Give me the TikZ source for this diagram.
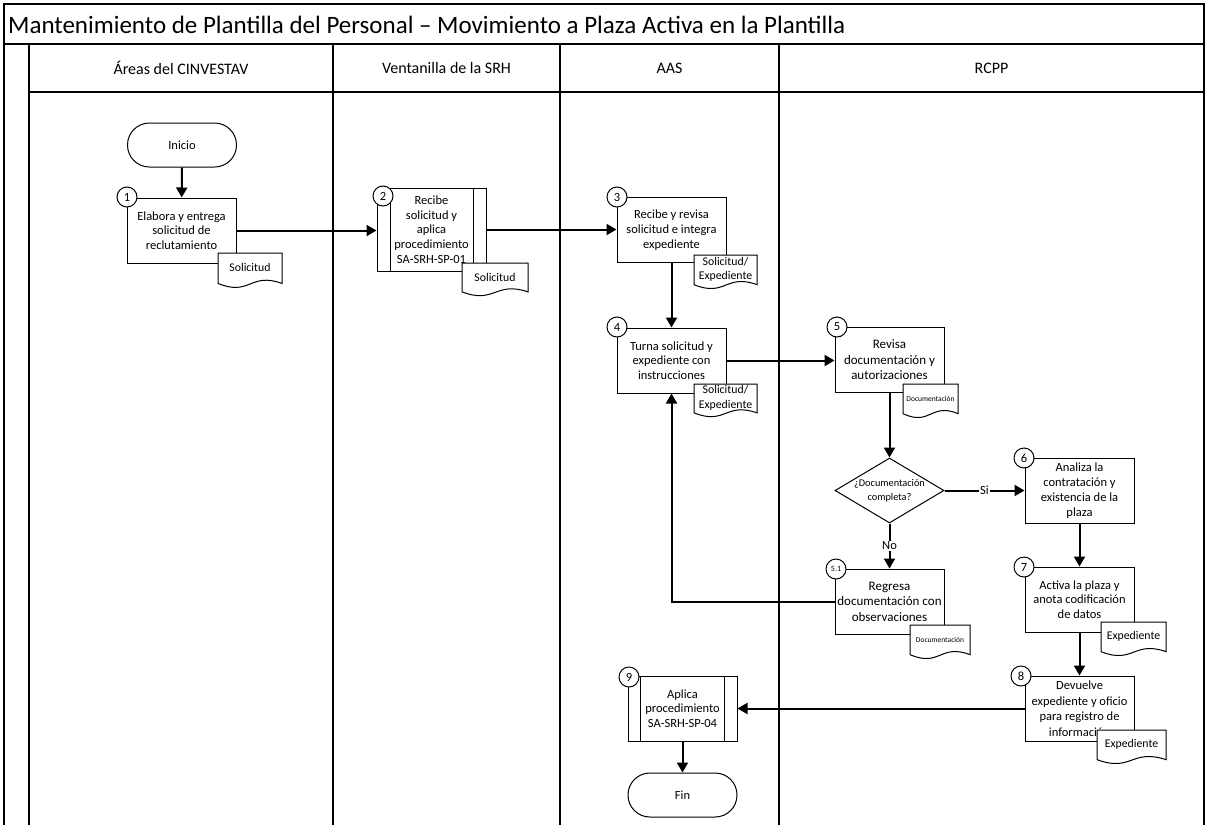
\documentclass[tikz,border=0pt]{standalone}
\usepackage{fontspec}
\setmainfont{Carlito}
\usetikzlibrary{shapes.geometric,arrows.meta}

% document symbol: white sheet with a wavy lower edge, label placed on top
\newcommand\docsheet[6]{% name, x1, y1, x2, y2, label
  \path[docline] (#2,#3) -- (#4,#3) -- (#4,{#3+0.78*(#5-#3)})
    .. controls ({#2+0.5*(#4-#2)},{#3+0.48*(#5-#3)}) and ({#2+0.5*(#4-#2)},{#3+1.12*(#5-#3)}) ..
    (#2,{#3+0.78*(#5-#3)}) -- cycle;
  \node[doctext] (#1) at ({0.5*(#2+#4)},{#3+0.38*(#5-#3)}) {#6};}
\newcommand\smalldoc{\fontsize{7.5}{9}\selectfont}

\begin{document}
\begin{tikzpicture}[x=1pt,y=-1pt,
  pool/.style={line width=1.5pt},
  stepbox/.style={draw,line width=1pt,fill=white,minimum width=109,minimum height=65,
    inner sep=1pt,align=center,font=\fontsize{12.5}{14.8}\selectfont},
  bigtext/.style={font=\fontsize{13}{15.5}\selectfont},
  term/.style={draw,line width=1pt,fill=white,rounded corners=21.9,minimum width=109,
    minimum height=44,font=\fontsize{12.5}{15}\selectfont},
  num/.style={circle,draw,line width=1pt,fill=white,minimum size=20,inner sep=0,
    font=\fontsize{12.5}{14}\selectfont},
  docline/.style={draw,line width=1pt,fill=white},
  doctext/.style={align=center,inner sep=0,font=\fontsize{11.8}{14.5}\selectfont},
  flow/.style={line width=2pt,-{Triangle[length=10pt,width=11pt]}},
  lbl/.style={fill=white,inner sep=1pt,font=\fontsize{12.5}{15}\selectfont},
  lane/.style={font=\fontsize{16}{19}\selectfont}]
\useasboundingbox (0,0) rectangle (1207,825);

% pool frame, title band and lane headers
\draw[pool] (4,825) -- (4,4) -- (1204,4) -- (1204,825);
\draw[pool] (4,44) -- (1204,44);
\draw[pool] (29,92) -- (1204,92);
\draw[pool] (29,44) -- (29,825);
\draw[pool] (333,44) -- (333,825);
\draw[pool] (560,44) -- (560,825);
\draw[pool] (779,44) -- (779,825);
\node[anchor=west,inner sep=0,font=\fontsize{25}{30}\selectfont] (title) at (8,25)
  {Mantenimiento de Plantilla del Personal – Movimiento a Plaza Activa en la Plantilla};
\node[lane] (h1) at (181,68) {Áreas del CINVESTAV};
\node[lane] (h2) at (446.5,68) {Ventanilla de la SRH};
\node[lane] (h3) at (669.5,68) {AAS};
\node[lane] (h4) at (991.5,68) {RCPP};

% start / end
\node[term] (ini) at (182,145) {Inicio};
\node[term] (fin) at (682.5,795) {Fin};

% process steps
\node[stepbox] (b1) at (181.5,230.5) {Elabora y entrega\\solicitud de\\reclutamiento};
\node[stepbox,minimum height=83] (b2) at (431.5,229.5) {Recibe\\solicitud y\\aplica\\procedimiento\\SA-SRH-SP-01};
\draw[line width=1pt] ([xshift=14pt]b2.north west) -- ([xshift=14pt]b2.south west);
\draw[line width=1pt] ([xshift=-13pt]b2.north east) -- ([xshift=-13pt]b2.south east);
\node[stepbox] (b3) at (671.5,230) {Recibe y revisa\\solicitud e integra\\expediente};
\node[stepbox] (b4) at (671.5,360.5) {Turna solicitud y\\expediente con\\instrucciones};
\node[stepbox,bigtext] (b5) at (889.5,360) {Revisa\\documentación y\\autorizaciones};
\node[diamond,draw,line width=1pt,fill=white,minimum width=109,minimum height=65,inner sep=0] (dia) at (889.5,490.5) {};
\node[align=center,font=\fontsize{10.3}{14}\selectfont] (diatext) at (dia) {¿Documentación\\completa?};
\node[stepbox] (b6) at (1079.5,490.5) {Analiza la\\contratación y\\existencia de la\\plaza};
\node[stepbox,bigtext] (b51) at (889.5,601.5) {Regresa\\documentación con\\observaciones};
\node[stepbox] (b7) at (1079.5,599.5) {Activa la plaza y\\anota codificación\\de datos};
\node[stepbox,font=\fontsize{12.5}{15.5}\selectfont,text depth=0pt] (b8) at (1079.5,708.5) {Devuelve\\expediente y oficio\\para registro de\\información};
\node[stepbox] (b9) at (682.5,708.5) {Aplica\\procedimiento\\SA-SRH-SP-04};
\draw[line width=1pt] ([xshift=13pt]b9.north west) -- ([xshift=13pt]b9.south west);
\draw[line width=1pt] ([xshift=-13pt]b9.north east) -- ([xshift=-13pt]b9.south east);

% documents
\docsheet{d1}{218}{253}{282}{292}{Solicitud}
\docsheet{d2}{462}{263}{528}{300}{Solicitud}
\docsheet{d3}{694}{255}{757}{293}{Solicitud/\\Expediente}
\docsheet{d4}{694}{384}{757}{421}{Solicitud/\\Expediente}
\docsheet{d5}{903}{384}{958}{422}{\smalldoc Documentación}
\docsheet{d51}{910}{625}{970}{663}{\smalldoc Documentación}
\docsheet{d7}{1101}{622}{1166}{660}{Expediente}
\docsheet{d8}{1097}{730}{1166}{768}{Expediente}

% step numbers
\node[num] (n1) at (127,197) {1};
\node[num] (n2) at (383,196) {2};
\node[num] (n3) at (617,197) {3};
\node[num] (n4) at (617,327) {4};
\node[num] (n5) at (837,327) {5};
\node[num] (n6) at (1024,458) {6};
\node[num] (n51) at (836,569) {\fontsize{8}{9}\selectfont 5.1};
\node[num] (n7) at (1024,567) {7};
\node[num] (n8) at (1021,676) {8};
\node[num] (n9) at (629,677) {9};

% connectors
\draw[flow] (ini) -- (b1);
\draw[flow] (b1.east) -- (b1.east -| b2.west);
\draw[flow] (b2.east) -- (b2.east -| b3.west);
\draw[flow] (b3) -- (b4);
\draw[flow] (b4.east) -- (b4.east -| b5.west);
\draw[flow] (b5) -- (dia);
\draw[flow] (dia) -- node[lbl] {Si} (b6);
\draw[flow] (dia) -- node[lbl] {No} (b51);
\draw[flow] (b51.west) -| (b4.south);
\draw[flow] (b6) -- (b7);
\draw[flow] (b7) -- (b8);
\draw[flow] (b8.west) -- (b8.west -| b9.east);
\draw[flow] (b9) -- (fin);
\end{tikzpicture}
\end{document}
